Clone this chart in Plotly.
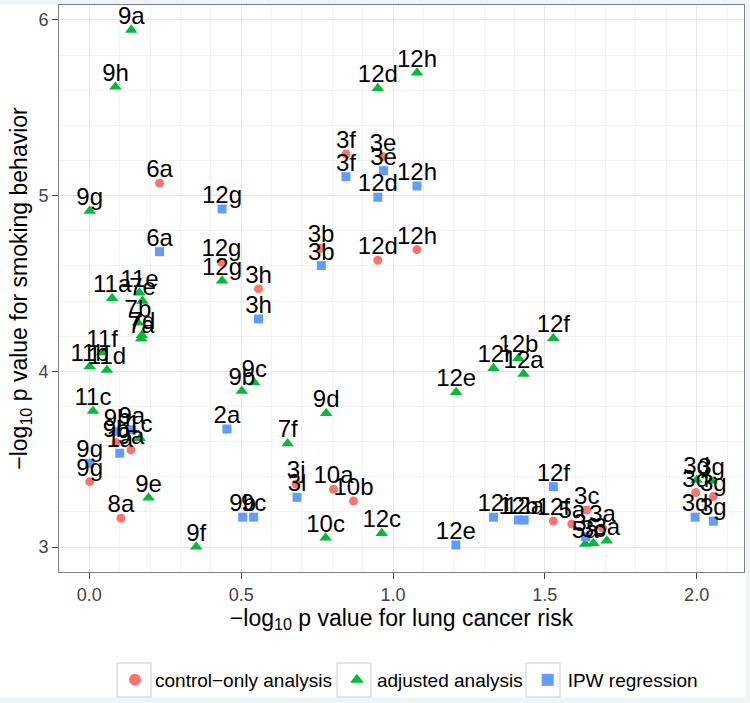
import plotly.graph_objects as go

# control-only analysis
ctrl_lab = ["6a","3f","3e","12g","3h","3b","12d","12h","9b","9a","9g","8a","3j","10a","10b","12f","5a","3c","3a","3d","3g"]
ctrl_x = [0.231,0.845,0.967,0.435,0.557,0.763,0.950,1.079,0.088,0.137,0.001,0.104,0.681,0.804,0.870,1.528,1.589,1.638,1.690,1.997,2.055]
ctrl_y = [5.071,5.237,5.222,4.621,4.469,4.700,4.632,4.693,3.594,3.553,3.372,3.164,3.359,3.329,3.262,3.148,3.131,3.211,3.108,3.310,3.287]

# adjusted analysis
adj_lab = ["9a","9h","9g","12d","12h","12g","11a","11e","7e","7b","7d","7a","11f","11b","11d","11c","1c","9b","9c","9d","7f","10c","12c","9e","9f","12e","12i","12b","12a","12f","5a","3c","3a","3d","3g"]
adj_x = [0.138,0.086,0.001,0.950,1.079,0.437,0.075,0.165,0.175,0.160,0.173,0.171,0.042,0.001,0.058,0.012,0.166,0.502,0.543,0.780,0.653,0.778,0.963,0.195,0.352,1.208,1.331,1.413,1.430,1.528,1.633,1.660,1.704,2.000,2.049]
adj_y = [5.943,5.620,4.913,5.611,5.700,4.515,4.416,4.448,4.400,4.277,4.205,4.185,4.107,4.027,4.008,3.775,3.619,3.888,3.936,3.762,3.590,3.053,3.078,3.281,3.002,3.881,4.018,4.075,3.985,4.188,3.018,3.022,3.036,3.382,3.376]

# IPW regression
ipw_lab = ["12g","3f","3e","12h","12d","6a","3b","3h","2a","9b","9c","3l","9g","9h","9a","1a","12e","12i","12b","12a","12f","3c","3d","3g"]
ipw_x = [0.437,0.845,0.969,1.079,0.950,0.231,0.764,0.557,0.453,0.505,0.541,0.684,0.001,0.091,0.140,0.100,1.207,1.331,1.413,1.432,1.528,1.635,1.995,2.055]
ipw_y = [4.924,5.108,5.142,5.055,4.991,4.681,4.602,4.298,3.672,3.170,3.170,3.283,3.477,3.657,3.667,3.534,3.012,3.170,3.154,3.154,3.344,3.059,3.170,3.147]

series = [
    ("control\u2212only analysis", ctrl_x, ctrl_y, ctrl_lab, "#F8766D", "circle", 9),
    ("adjusted analysis", adj_x, adj_y, adj_lab, "#00BA38", "triangle-up", 11),
    ("IPW regression", ipw_x, ipw_y, ipw_lab, "#619CFF", "square", 9),
]

FONT = "Liberation Sans, Arial, Helvetica, sans-serif"
W, H = 750, 703
ML, MR, MT, MB = 59, 6, 5, 131
PW, PH = W - ML - MR, H - MT - MB


def px2paper_x(px):
    return (px - ML) / PW


def px2paper_y(py):
    return (H - MB - py) / PH


fig = go.Figure()
for name, xs, ys, labs, col, sym, sz in series:
    fig.add_trace(go.Scatter(x=xs, y=ys, mode="markers", name=name,
                             marker=dict(color=col, symbol=sym, size=sz, line=dict(width=0))))
for name, xs, ys, labs, col, sym, sz in series:
    fig.add_trace(go.Scatter(x=xs, y=ys, mode="text", text=labs, textposition="top center",
                             textfont=dict(size=24, color="black", family=FONT),
                             showlegend=False, hoverinfo="skip"))

axis_common = dict(showline=True, linecolor="#7F7F7F", linewidth=1, mirror=True,
                   showgrid=True, gridcolor="#E6E6E6", gridwidth=1,
                   ticks="outside", ticklen=6, tickcolor="#444444",
                   tickfont=dict(size=18, color="#444444", family=FONT),
                   zeroline=False,
                   minor=dict(showgrid=True, gridcolor="#F4F4F4", gridwidth=1))

fig.update_xaxes(range=[-0.1, 2.156], tickvals=[0, 0.5, 1.0, 1.5, 2.0],
                 ticktext=["0.0", "0.5", "1.0", "1.5", "2.0"],
                 title=dict(text="\u2212log<sub>10</sub> p value for lung cancer risk",
                            font=dict(size=23, color="black", family=FONT), standoff=5),
                 **axis_common)
fig.update_yaxes(range=[2.858, 6.085], tickvals=[3, 4, 5, 6],
                 title=dict(text="\u2212log<sub>10</sub> p value for smoking behavior",
                            font=dict(size=23, color="black", family=FONT), standoff=4),
                 **axis_common)

# legend key boxes (ggplot style) and faint edge strips
shapes = []
for cx in [134, 354, 543]:
    shapes.append(dict(type="rect", xref="paper", yref="paper",
                       x0=px2paper_x(cx - 17), x1=px2paper_x(cx + 17),
                       y0=px2paper_y(697), y1=px2paper_y(663),
                       line=dict(color="#CCCCCC", width=1), fillcolor="white", layer="above"))
edge = "#F1F4F7"
shapes.append(dict(type="rect", xref="paper", yref="paper", x0=px2paper_x(0), x1=px2paper_x(W),
                   y0=px2paper_y(4.5), y1=px2paper_y(0), line=dict(width=0), fillcolor=edge, layer="below"))
shapes.append(dict(type="rect", xref="paper", yref="paper", x0=px2paper_x(746), x1=px2paper_x(W),
                   y0=px2paper_y(H), y1=px2paper_y(0), line=dict(width=0), fillcolor=edge, layer="below"))
shapes.append(dict(type="rect", xref="paper", yref="paper", x0=px2paper_x(0), x1=px2paper_x(W),
                   y0=px2paper_y(H), y1=px2paper_y(697.5), line=dict(width=0), fillcolor=edge, layer="below"))

fig.update_layout(
    width=W, height=H,
    margin=dict(l=ML, r=MR, t=MT, b=MB, autoexpand=False),
    paper_bgcolor="white", plot_bgcolor="white",
    font=dict(family=FONT),
    shapes=shapes,
    legend=dict(orientation="h", x=px2paper_x(115), xanchor="left", y=px2paper_y(680), yanchor="middle",
                font=dict(size=19, color="black", family=FONT), bgcolor="rgba(0,0,0,0)",
                itemsizing="constant"),
)

fig.write_html("out.html", config={"displayModeBar": False},
               post_script="document.body.style.margin='0px';document.body.style.padding='0px';")
